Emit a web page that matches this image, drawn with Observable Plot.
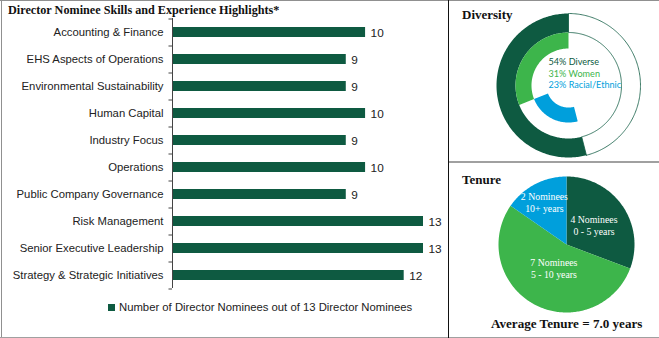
<!DOCTYPE html>
<html><head><meta charset="utf-8">
<script src="https://cdn.jsdelivr.net/npm/d3@7"></script>
<script src="https://cdn.jsdelivr.net/npm/@observablehq/plot@0.6"></script>
<style>
body{margin:0;background:#fff}
#root{position:relative;width:659px;height:338px;overflow:hidden;background:#fff}
.ttl{position:absolute;font-family:"Liberation Serif",serif;font-weight:bold;line-height:1;white-space:nowrap;color:#111}
svg{overflow:visible}
</style></head><body><div id="root"></div>
<script>
// ---------- data ----------
const skills = ["Accounting & Finance","EHS Aspects of Operations","Environmental Sustainability","Human Capital","Industry Focus","Operations","Public Company Governance","Risk Management","Senior Executive Leadership","Strategy & Strategic Initiatives"];
const skillCounts = [10,9,9,10,9,10,9,13,13,12];
const totalNominees = 13;
const legendText = "Number of Director Nominees out of 13 Director Nominees";
const diversityLabels = ["Diverse","Women","Racial/Ethnic"];
const diversityPct = [54,31,23];
const tenureCounts = [4,7,2];
const tenureRanges = ["0 - 5 years","5 - 10 years","10+ years"];
const averageTenure = 7.0;

// ---------- style ----------
const DARK = "#0e5a41", LIGHT = "#3db54b", BLUE = "#009fdc";
const root = document.getElementById("root");
function add(el, css){ Object.assign(el.style, css); root.appendChild(el); return el; }
function div(css, text){ const d=document.createElement("div"); if(text!=null) d.textContent=text; return add(d, css); }

// frame lines
div({position:"absolute",left:"0px",top:"0px",width:"659px",height:"1px",background:"#909090"});
div({position:"absolute",left:"1px",top:"0px",width:"1px",height:"338px",background:"#909090"});
div({position:"absolute",left:"0px",top:"337px",width:"659px",height:"1px",background:"#a0a0a0"});
div({position:"absolute",left:"448px",top:"0px",width:"1px",height:"338px",background:"#111"});
div({position:"absolute",left:"449px",top:"161px",width:"210px",height:"2px",background:"#a0a0a0"});

// ---------- bar chart ----------
const barData = skills.map((s,i)=>({skill:s, count:skillCounts[i]}));
const barChart = Plot.plot({
  width: 448, height: 300,
  marginLeft: 172, marginRight: 25, marginTop: 18, marginBottom: 12,
  x: {domain:[0,totalNominees], axis:null},
  y: {domain: skills, paddingInner:0.63, paddingOuter:0.315, label:null},
  style: {fontFamily:"Liberation Sans, Arial, sans-serif", fontSize:"11.3px", color:"#222", background:"transparent"},
  marks: [
    Plot.barX(barData, {x:"count", y:"skill", fill:DARK}),
    Plot.ruleX([0], {stroke:"#444", strokeWidth:1}),
    Plot.ruleY(skills, {y:d=>d, x1:0, x2:-3.5/19.3, dy:-13.5, stroke:"#444"}),
    Plot.ruleY([skills[skills.length-1]], {y:d=>d, x1:0, x2:-3.5/19.3, dy:13.5, stroke:"#444"}),
    Plot.axisY({tickSize:0, tickPadding:9, label:null}),
    Plot.text(barData, {x:"count", y:"skill", text:d=>String(d.count), textAnchor:"start", dx:5, dy:1, fontSize:11.8})
  ]
});
add(barChart, {position:"absolute", left:"0px", top:"0px"});

div({left:"8px",top:"4px",fontSize:"12.2px"}, "Director Nominee Skills and Experience Highlights*").className="ttl";
div({position:"absolute",left:"108px",top:"304px",width:"7px",height:"7px",background:DARK});
div({position:"absolute",left:"119px",top:"302px",fontFamily:"Liberation Sans, Arial, sans-serif",fontSize:"11.3px",lineHeight:"1",color:"#222",whiteSpace:"nowrap"}, legendText);

// ---------- arc helper (angles as fraction of a turn, clockwise from 12 o'clock) ----------
function arcPoly(id, a0, a1, r0, r1){
  const n = Math.max(2, Math.ceil(Math.abs(a1-a0)*360));
  const pts = [];
  for(let i=0;i<=n;i++){const a=(a0+(a1-a0)*i/n)*2*Math.PI; pts.push({id, x:r1*Math.sin(a), y:r1*Math.cos(a)});}
  if(r0>0){ for(let i=n;i>=0;i--){const a=(a0+(a1-a0)*i/n)*2*Math.PI; pts.push({id, x:r0*Math.sin(a), y:r0*Math.cos(a)});} }
  else pts.push({id, x:0, y:0});
  pts.push({...pts[0]});
  return pts;
}

// ---------- diversity donut ----------
const [diverse, women, racial] = diversityPct.map(v=>v/100);
const ringOuter=[0.736,1], ringMid=[0.514,0.736], ringIn=[0.306,0.514];
const donut = Plot.plot({
  width:210, height:160, margin:0,
  x:{domain:[-1,1], range:[47,191], axis:null},
  y:{domain:[-1,1], range:[155,11], axis:null},
  style:{background:"transparent"},
  marks:[
    Plot.line(arcPoly("rest",-diverse,-1,...ringOuter), {x:"x",y:"y",fill:"white",stroke:DARK,strokeWidth:0.8,curve:"linear"}),
    Plot.line(arcPoly("diverse",0,-diverse,...ringOuter), {x:"x",y:"y",fill:DARK,stroke:"none"}),
    Plot.line(arcPoly("women",0,-women,...ringMid), {x:"x",y:"y",fill:LIGHT,stroke:"none"}),
    Plot.line(arcPoly("racial",-women,-(women+racial),...ringIn), {x:"x",y:"y",fill:BLUE,stroke:"none"}),
    ...diversityLabels.map((l,i)=>Plot.text([l], {x:0, y:0, text:d=>`${diversityPct[i]}% ${d}`, textAnchor:"start", dx:-20, dy:-23+11.5*i,
      fill:[DARK,LIGHT,BLUE][i], fontFamily:"Lato, 'Open Sans', sans-serif", fontSize:9.1}))
  ]
});
add(donut,{position:"absolute",left:"449px",top:"2px"});
div({left:"462px",top:"8px",fontSize:"13px"},"Diversity").className="ttl";

// ---------- tenure pie ----------
const pieArcs = d3.pie().sort(null)(tenureCounts);
const pieColors = [DARK, LIGHT, BLUE];
const labelR = [0.49, 0.40, 0.70];
const pieMarks = pieArcs.map((a,i)=>Plot.line(arcPoly("s"+i, a.startAngle/(2*Math.PI), a.endAngle/(2*Math.PI), 0, 1), {x:"x",y:"y",fill:pieColors[i],stroke:"none"}));
const pieLabels = pieArcs.map((a,i)=>{const m=(a.startAngle+a.endAngle)/2; return {x:labelR[i]*Math.sin(m), y:labelR[i]*Math.cos(m), t:`${tenureCounts[i]} Nominees\n${tenureRanges[i]}`};});
const pie = Plot.plot({
  width:210, height:174, margin:0,
  x:{domain:[-1,1], range:[49,185], axis:null},
  y:{domain:[-1,1], range:[149,13], axis:null},
  style:{background:"transparent"},
  marks:[...pieMarks,
    Plot.text(pieLabels,{x:"x",y:"y",text:"t",fill:"white",fontFamily:"Liberation Serif, serif",fontSize:9.8,lineHeight:1.2})
  ]
});
add(pie,{position:"absolute",left:"449px",top:"163px"});
div({left:"462px",top:"172.5px",fontSize:"13px"},"Tenure").className="ttl";
div({left:"491px",top:"316.5px",fontSize:"13.1px"},`Average Tenure = ${averageTenure.toFixed(1)} years`).className="ttl";
</script></body></html>
